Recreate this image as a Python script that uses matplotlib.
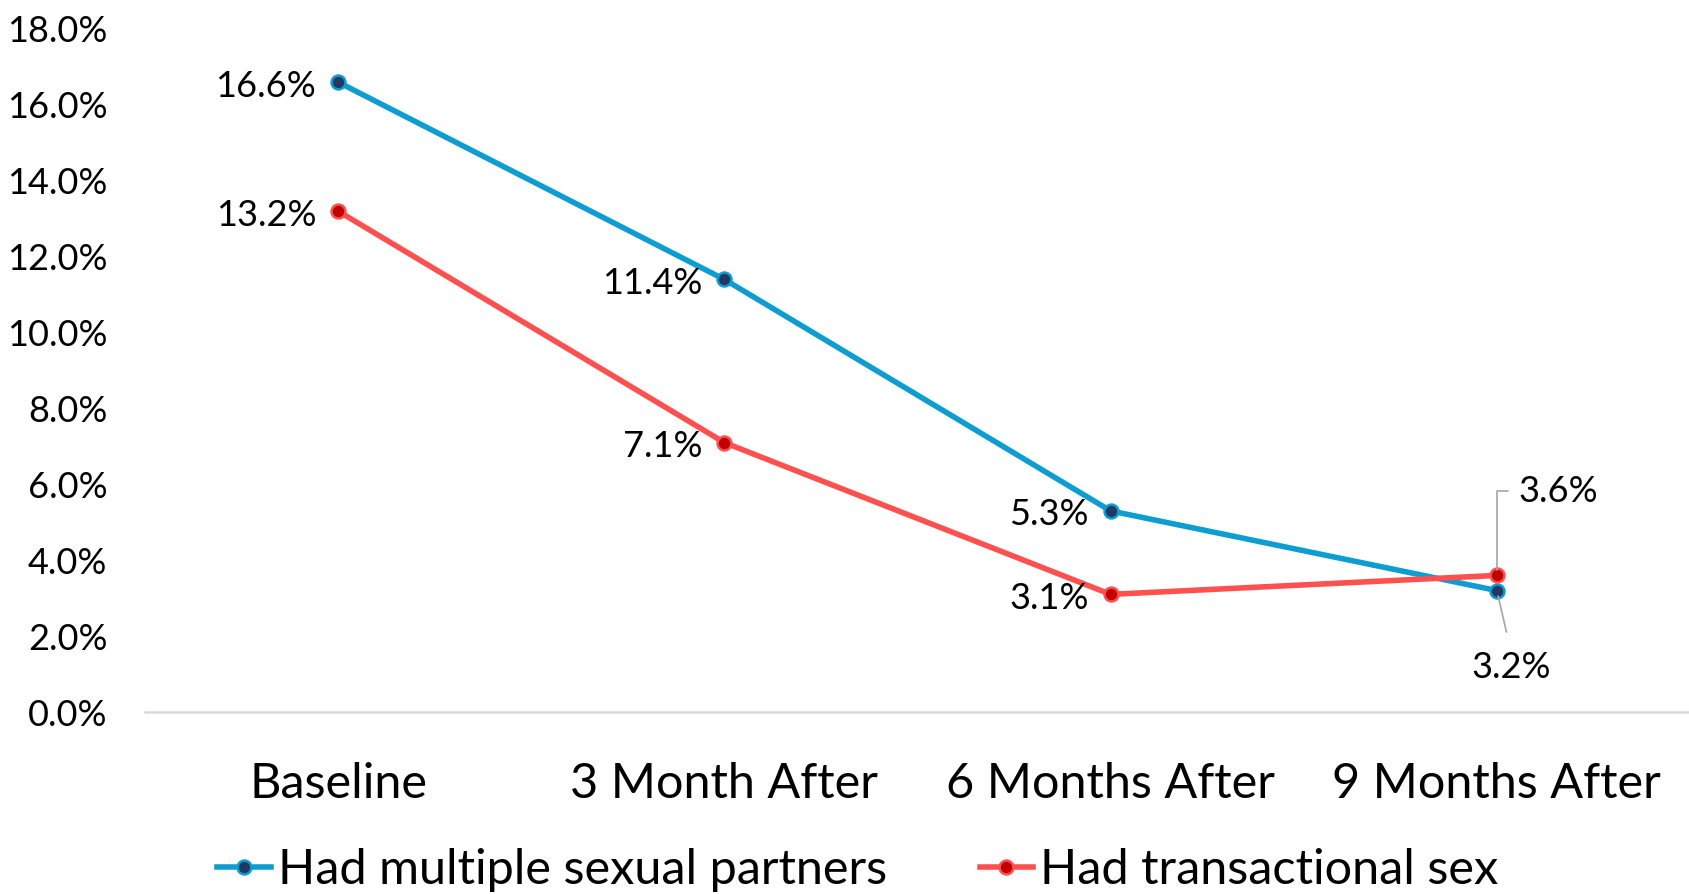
import numpy as np
import matplotlib.pyplot as plt
from matplotlib.ticker import FuncFormatter

plt.rcParams['font.family'] = ['Lato', 'DejaVu Sans']

# data
periods = ['Baseline', '3 Month After', '6 Months After', '9 Months After']
multiple_partners = [16.6, 11.4, 5.3, 3.2]
transactional_sex = [13.2, 7.1, 3.1, 3.6]

blue = '#0E9DD1'
blue_dark = '#203864'
red = '#FF5050'
red_dark = '#C00000'
grey = '#A6A6A6'

fig = plt.figure(figsize=(16.9, 8.94), dpi=100)
ax = fig.add_axes([145 / 1690, 1 - 712 / 894, 1 - 145 / 1690, (712 - 29) / 894])

x = np.arange(len(periods))
l1, = ax.plot(x, multiple_partners, color=blue, lw=4, marker='o', ms=10,
              mfc=blue_dark, mec=blue, mew=1.8, label='Had multiple sexual partners')
l2, = ax.plot(x, transactional_sex, color=red, lw=4, marker='o', ms=10,
              mfc=red_dark, mec=red, mew=1.8, label='Had transactional sex')

ax.set_xlim(-0.5, len(periods) - 0.5)
ax.set_ylim(0, 18)
ax.set_yticks(np.arange(0, 18.1, 2))
ax.yaxis.set_major_formatter(FuncFormatter(lambda v, p: f'{v:.1f}%'))
ax.set_xticks(x)
ax.set_xticklabels(periods, fontsize=35)
ax.tick_params(axis='y', length=0, pad=27, labelsize=26)
ax.tick_params(axis='x', length=0, pad=36)

for s in ['top', 'right', 'left']:
    ax.spines[s].set_visible(False)
ax.spines['bottom'].set_color('#D9D9D9')
ax.spines['bottom'].set_linewidth(1.8)

# data labels, left of the points
for i in range(3):
    ax.annotate(f'{multiple_partners[i]:.1f}%', (x[i], multiple_partners[i]),
                xytext=(-22, -4), textcoords='offset pixels', ha='right', va='center', fontsize=26)
    ax.annotate(f'{transactional_sex[i]:.1f}%', (x[i], transactional_sex[i]),
                xytext=(-22, -4), textcoords='offset pixels', ha='right', va='center', fontsize=26)

# last point labels with leader lines
ax.annotate(f'{transactional_sex[3]:.1f}%', (x[3], transactional_sex[3]),
            xytext=(22, 84), textcoords='offset pixels', ha='left', va='center', fontsize=26,
            arrowprops=dict(arrowstyle='-', color=grey, lw=1.2, shrinkA=6, shrinkB=4,
                            relpos=(0, 0.5), connectionstyle='angle,angleA=0,angleB=90,rad=0'))
ax.annotate(f'{multiple_partners[3]:.1f}%', (x[3], multiple_partners[3]),
            xytext=(14, -77), textcoords='offset pixels', ha='center', va='center', fontsize=26,
            arrowprops=dict(arrowstyle='-', color=grey, lw=1.2, shrinkA=12, shrinkB=4,
                            relpos=(0.5, 1)))

fig.legend(handles=[l1, l2], loc='center', bbox_to_anchor=(858 / 1690, 1 - 870 / 894),
           ncol=2, frameon=False, fontsize=35, handlelength=1.1, handletextpad=0.15,
           columnspacing=1.9, borderaxespad=0)

fig.savefig('out.png', dpi=100)
